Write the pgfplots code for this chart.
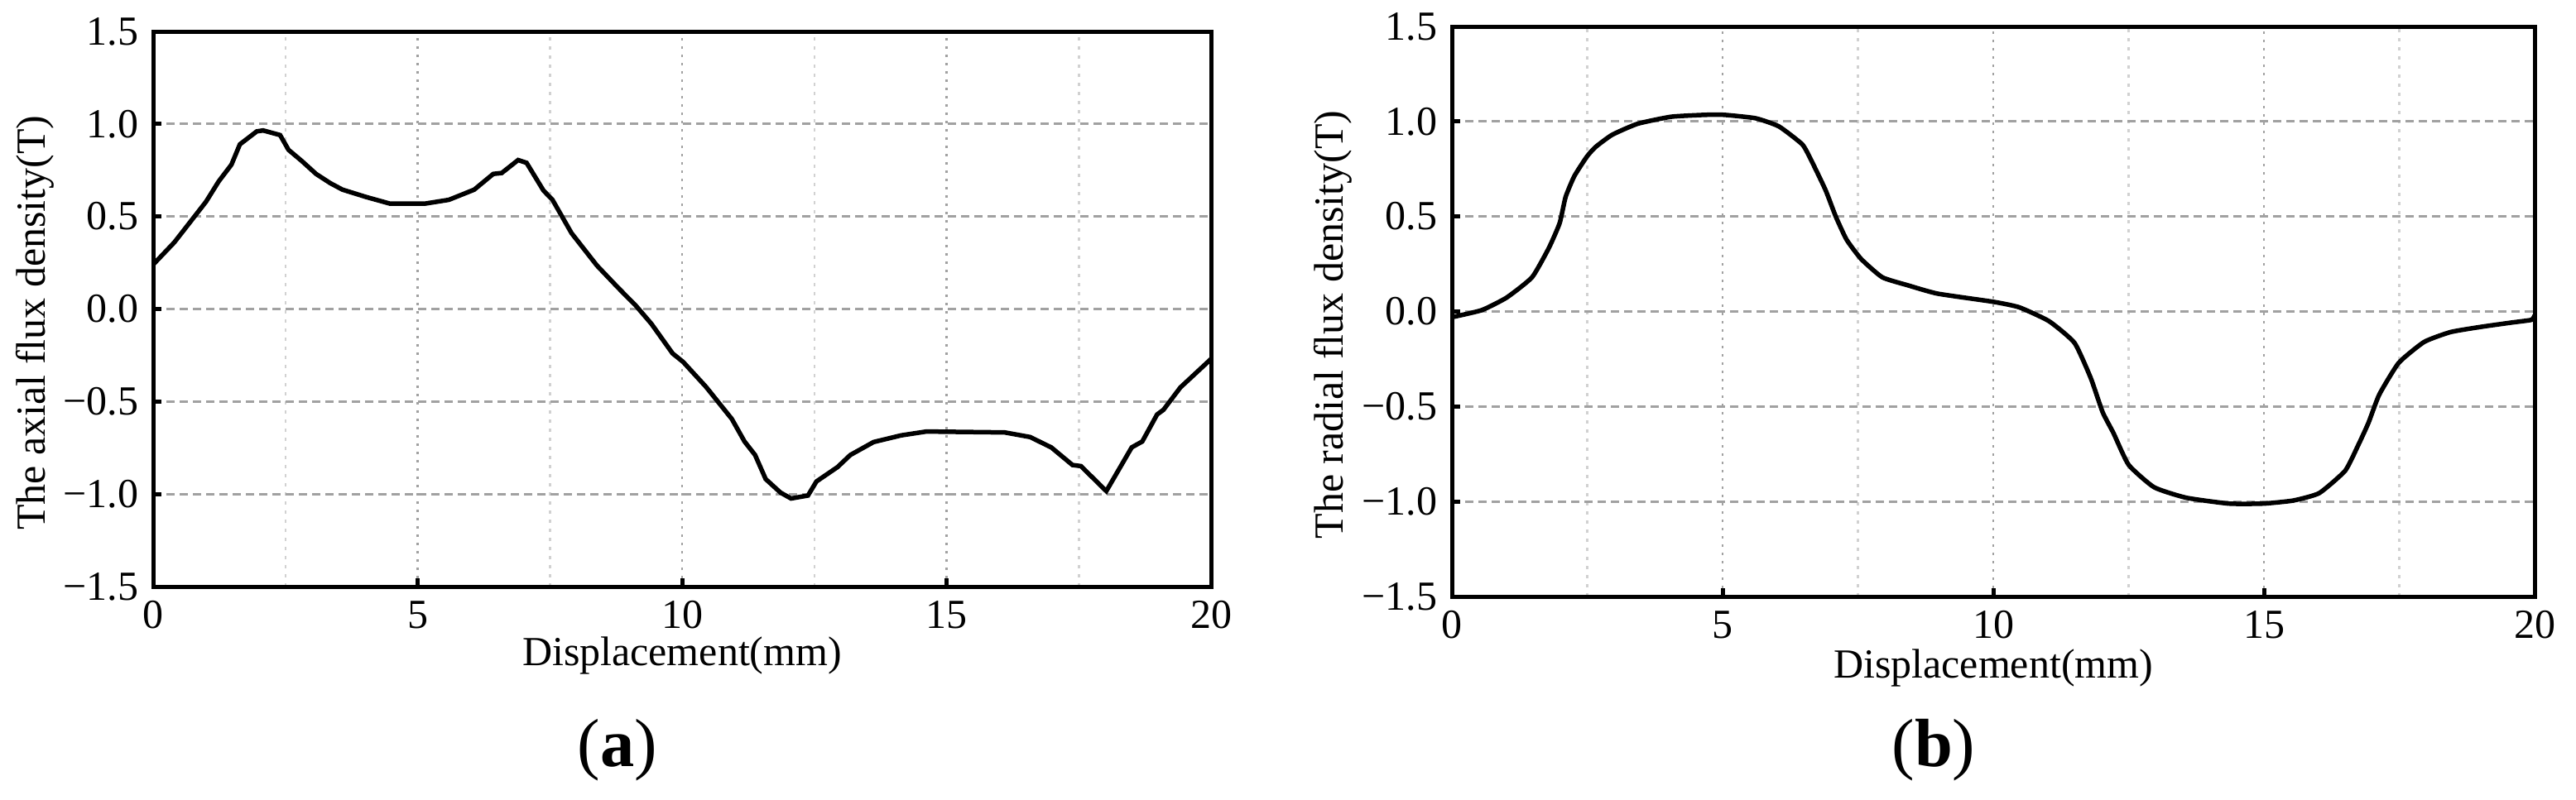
\documentclass[border=0pt]{standalone}
\usepackage{fontspec}
\setmainfont{Liberation Serif}
\usepackage{pgfplots}
\pgfplotsset{compat=1.18}

\pgfplotsset{
  fluxaxis/.style={
    scale only axis,
    xmin=0, xmax=20, ymin=-1.5, ymax=1.5,
    xtick={0,5,10,15,20},
    xticklabels={0,5,10,15,20},
    minor xtick={2.5,7.5,12.5,17.5},
    ytick={-1.5,-1,-0.5,0,0.5,1,1.5},
    yticklabels={−1.5,−1.0,−0.5,0.0,0.5,1.0,1.5},
    tick align=inside,
    xtick pos=bottom, ytick pos=left,
    major tick length=2pt, minor tick length=0pt,
    tick style={black, line width=1pt},
    axis line style={line width=1pt},
    ymajorgrids, xmajorgrids, xminorgrids,
    major y grid style={color=black!37, line width=0.55pt, dash pattern=on 2pt off 1.2pt},
    major x grid style={color=black!37, line width=0.5pt, dash pattern=on 0.7pt off 1.3pt},
    minor x grid style={color=black!18, line width=0.5pt, dash pattern=on 0.9pt off 1.3pt},
    tick label style={font=\fontsize{10}{12}\selectfont},
    label style={font=\fontsize{10}{12}\selectfont},
    xlabel={Displacement(mm)},
  }
}

\begin{document}
\begin{tikzpicture}
\path[use as bounding box] (0,0) rectangle (622.4pt,193.2pt);

% (a) axial flux density
\begin{axis}[fluxaxis,
  at={(37pt,51.4pt)}, anchor=south west,
  width=255.6pt, height=134.2pt,
  ylabel={The axial flux density(T)},
  xlabel style={at={(axis description cs:0.5,-0.124)}, anchor=center, inner sep=0pt},
  ylabel style={at={(axis description cs:-0.112,0.475)}, anchor=center},
]
\addplot[black, line width=1.1pt] coordinates {
 (0,0.24) (0.4,0.36) (1.0,0.58) (1.24,0.69) (1.48,0.78) (1.64,0.89)
 (1.96,0.96) (2.08,0.965) (2.4,0.94) (2.56,0.86) (2.81,0.80) (3.08,0.73)
 (3.35,0.68) (3.58,0.645) (4.03,0.605) (4.47,0.57) (5.15,0.57) (5.59,0.59)
 (6.07,0.645) (6.43,0.73) (6.59,0.735) (6.9,0.805) (7.06,0.79) (7.38,0.64)
 (7.55,0.59) (7.91,0.41) (8.39,0.235) (8.79,0.115) (9.12,0.02) (9.42,-0.08)
 (9.82,-0.24) (10.02,-0.286) (10.45,-0.42) (10.94,-0.594) (11.18,-0.716)
 (11.38,-0.789) (11.58,-0.919) (11.86,-0.992) (12.06,-1.024) (12.38,-1.008)
 (12.54,-0.932) (12.94,-0.854) (13.18,-0.789) (13.62,-0.719) (14.14,-0.683)
 (14.62,-0.662) (16.1,-0.667) (16.58,-0.692) (16.98,-0.748) (17.38,-0.843)
 (17.54,-0.849) (18.02,-0.984) (18.5,-0.748) (18.7,-0.716) (18.98,-0.57)
 (19.1,-0.545) (19.42,-0.424) (20,-0.27)
};
\end{axis}

% (b) radial flux density
\begin{axis}[fluxaxis,
  at={(350.8pt,49pt)}, anchor=south west,
  width=261.6pt, height=137.8pt,
  ylabel={The radial flux density(T)},
  xlabel style={at={(axis description cs:0.5,-0.125)}, anchor=center, inner sep=0pt},
  ylabel style={at={(axis description cs:-0.11,0.477)}, anchor=center},
]
\addplot[black, line width=1.1pt, smooth, tension=0.3] coordinates {
 (0,-0.03) (0.55,0.007) (1.01,0.073) (1.48,0.18) (1.79,0.334) (1.99,0.465)
 (2.1,0.603) (2.26,0.712) (2.49,0.814) (2.65,0.865) (2.96,0.93) (3.43,0.988)
 (4.05,1.025) (4.68,1.035) (5.03,1.035) (5.61,1.017) (6.04,0.974) (6.47,0.88)
 (6.63,0.8) (6.9,0.64) (7.09,0.50) (7.29,0.378) (7.56,0.276) (7.95,0.18)
 (8.42,0.138) (8.97,0.094) (10,0.051) (10.48,0.022) (11.03,-0.051)
 (11.5,-0.165) (11.8,-0.35) (12.02,-0.53) (12.22,-0.64) (12.5,-0.807)
 (12.97,-0.925) (13.56,-0.98) (14.35,-1.011) (14.99,-1.011) (15.54,-0.995)
 (16.02,-0.956) (16.5,-0.838) (16.74,-0.704) (16.93,-0.586) (17.13,-0.437)
 (17.49,-0.27) (17.96,-0.16) (18.45,-0.108) (19.03,-0.08) (19.58,-0.058)
 (19.94,-0.044) (20,-0.02)
};
\end{axis}

\node at (149.2pt,11.8pt) {\fontsize{16.5}{18}\selectfont(\textbf{a})};
\node at (467.2pt,11.8pt) {\fontsize{16.5}{18}\selectfont(\textbf{b})};
\end{tikzpicture}
\end{document}
